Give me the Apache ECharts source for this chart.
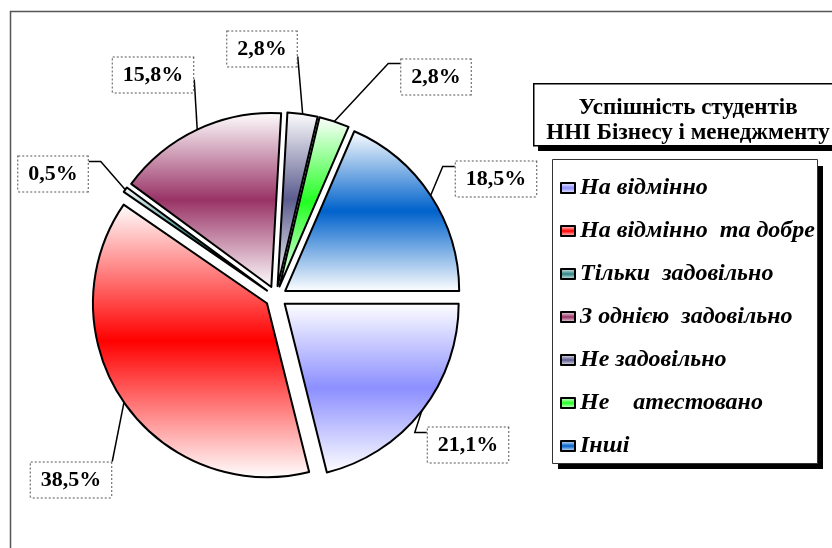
<!DOCTYPE html>
<html>
<head>
<meta charset="utf-8">
<script src="https://cdn.jsdelivr.net/npm/echarts@6/dist/echarts.min.js"></script>
<style>
  html, body { margin: 0; padding: 0; background: #fff; }
  #myChart { width: 832px; height: 548px; }
</style>
</head>
<body>
<div id="myChart"></div>
<script>
// chart values
const categories = ['На відмінно', 'На відмінно  та добре', 'Тільки  задовільно', 'З однією  задовільно', 'Не задовільно', 'Не    атестовано', 'Інші'];
const shares = [21.1, 38.5, 0.5, 15.8, 2.8, 2.8, 18.5];
const sliceColors = ['#8c8fff', '#ff0000', '#2e8585', '#993366', '#5c5c8f', '#22ff22', '#0062cc'];
// where the value boxes sit (label centres)
const labelPos = [[468, 445], [71, 480], [53, 174], [153, 75], [262, 49], [436, 77], [496, 179]];
// label line: [length of horizontal elbow, distance of attach point below box top]
const lineAttach = [[12, 6], [0, 0], [12, 6], [0, 23], [0, 26], [12, 5], [12, 6]];

const SERIF = '"Liberation Serif", "Times New Roman", serif';
const EXPLODE = 11;

function band(c) {
  return {
    type: 'linear', x: 0, y: 0, x2: 0, y2: 1,
    colorStops: [
      { offset: 0, color: '#ffffff' },
      { offset: 0.5, color: c },
      { offset: 1, color: '#ffffff' }
    ]
  };
}

const total = shares.reduce(function (a, b) { return a + b; }, 0);

// shift that the selected (exploded) slice gets; label and its line live in that frame
function sliceShift(i) {
  let before = 0;
  for (let k = 0; k < i; k++) before += shares[k];
  const mid = (before + shares[i] / 2) / total * Math.PI * 2;
  return [Math.cos(mid) * EXPLODE, Math.sin(mid) * EXPLODE];
}

const pieData = categories.map(function (name, i) {
  return { name: name, value: shares[i], selected: true, itemStyle: { color: band(sliceColors[i]) } };
});

var myChart = echarts.init(document.getElementById('myChart'));
const option = {
  animation: false,
  title: {
    text: 'Успішність студентів\nННІ Бізнесу і менеджменту',
    left: 683, top: 91, textAlign: 'center',
    textStyle: { fontFamily: SERIF, fontWeight: 'bold', fontSize: 23, lineHeight: 25, color: '#000' }
  },
  legend: {
    orient: 'vertical',
    left: 555, top: 171,
    itemWidth: 14, itemHeight: 10, itemGap: 19,
    icon: 'rect',
    selectedMode: false,
    itemStyle: { borderColor: '#000', borderWidth: 2 },
    textStyle: { fontFamily: SERIF, fontWeight: 'bold', fontStyle: 'italic', fontSize: 24, lineHeight: 24, color: '#000' },
    data: categories
  },
  graphic: [
    // outer frame
    { type: 'rect', left: 8, top: 9, z: -10, shape: { width: 900, height: 600 }, style: { fill: 'none', stroke: '#555', lineWidth: 1.5 } },
    // title box with shadow
    { type: 'rect', left: 538, top: 89, z: -5, shape: { width: 400, height: 62 }, style: { fill: '#000' } },
    { type: 'rect', left: 533, top: 83, z: -4, shape: { width: 400, height: 62 }, style: { fill: '#fff', stroke: '#000', lineWidth: 1.5 } },
    // legend box with shadow
    { type: 'rect', left: 558, top: 166, z: -5, shape: { width: 265, height: 303 }, style: { fill: '#000' } },
    { type: 'rect', left: 552, top: 159, z: -4, shape: { width: 265, height: 304 }, style: { fill: '#fff', stroke: '#333', lineWidth: 1 } }
  ],
  series: [{
    type: 'pie',
    center: [276, 297],
    radius: 174,
    startAngle: 0,
    clockwise: true,
    selectedMode: 'multiple',
    selectedOffset: EXPLODE,
    avoidLabelOverlap: false,
    itemStyle: { borderColor: '#000', borderWidth: 2 },
    emphasis: { disabled: true },
    label: {
      show: true,
      position: 'outside',
      formatter: function (p) { return p.value.toFixed(1).replace('.', ',') + '%'; },
      fontFamily: SERIF, fontWeight: 'bold', fontSize: 22, lineHeight: 24, color: '#000',
      backgroundColor: '#fff', borderColor: '#555', borderWidth: 1, borderType: 'dotted',
      padding: [6, 10, 5, 10]
    },
    labelLine: { show: true, length: 15, length2: 10, lineStyle: { color: '#000', width: 1.5 } },
    labelLayout: function (p) {
      const i = p.dataIndex;
      const pos = labelPos[i];
      const r = p.labelRect;
      const t = sliceShift(i);
      const res = {
        dx: pos[0] - t[0] - (r.x + r.width / 2),
        dy: pos[1] - t[1] - (r.y + r.height / 2)
      };
      if (p.labelLinePoints) {
        const start = p.labelLinePoints[0];
        const left = pos[0] - r.width / 2, top = pos[1] - r.height / 2;
        const onRight = pos[0] > start[0] + t[0];
        const ex = (onRight ? left : left + r.width) - t[0];
        const ey = top + lineAttach[i][1] - t[1];
        const elbow = lineAttach[i][0];
        res.labelLinePoints = [start, [onRight ? ex - elbow : ex + elbow, ey], [ex, ey]];
      }
      return res;
    },
    data: pieData
  }]
};
myChart.setOption(option);
</script>
</body>
</html>
